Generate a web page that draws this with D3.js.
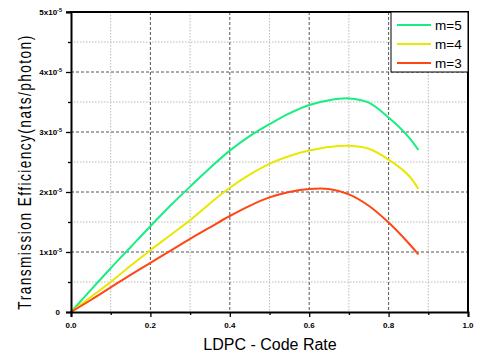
<!DOCTYPE html>
<html>
<script src='https://d3js.org/d3.v7.min.js'></script>
<body style="margin:0;background:#fff">
<svg id="chart" width=480 height=356></svg>
<script type='text/javascript'>
// code rate samples shared by all series
var rate=[0,0.05,0.1,0.15,0.2,0.25,0.3,0.35,0.4,0.45,0.5,0.55,0.6,0.65,0.7,0.75,0.8,0.85,0.875];
// efficiency in units of 1e-5 nats/photon
var m5=[0,0.37,0.73,1.08,1.43,1.77,2.09,2.40,2.69,2.93,3.13,3.31,3.45,3.53,3.56,3.49,3.24,2.92,2.70];
var m4=[0,0.25,0.50,0.77,1.03,1.28,1.53,1.81,2.07,2.29,2.47,2.60,2.69,2.75,2.77,2.72,2.54,2.28,2.05];
var m3=[0,0.20,0.41,0.62,0.82,1.02,1.22,1.41,1.60,1.77,1.91,2.00,2.05,2.05,1.96,1.77,1.49,1.15,0.96];
var names=["m=5","m=4","m=3"];
var colors=["#17ee80","#e8e800","#ff4713"];
var xTicks=[0,0.2,0.4,0.6,0.8,1.0];
var xTickLabels=["0.0","0.2","0.4","0.6","0.8","1.0"];
var yTicks=[0,1,2,3,4,5];
var yTickLabels=["0","1x10","2x10","3x10","4x10","5x10"];

var svg=d3.select("#chart");
var L=71,R=468,T=12,B=312;
var xs=d3.scaleLinear().domain([0,1]).range([L,R]);
var ys=d3.scaleLinear().domain([0,5]).range([B,T]);

// minor grid
var g=svg.append("g");
g.selectAll(".mx").data(d3.range(0.1,1,0.2)).enter().append("line")
.attr("x1",d=>xs(d)).attr("x2",d=>xs(d)).attr("y1",T).attr("y2",B)
.attr("stroke","#bbb").attr("stroke-width",1).attr("stroke-dasharray","1.5,1.5");
g.selectAll(".my").data(d3.range(0.5,5,1)).enter().append("line")
.attr("y1",d=>ys(d)).attr("y2",d=>ys(d)).attr("x1",L).attr("x2",R)
.attr("stroke","#bbb").attr("stroke-width",1).attr("stroke-dasharray","1.5,1.5");
// major grid
g.selectAll(".Mx").data([0.2,0.4,0.6,0.8]).enter().append("line")
.attr("x1",d=>xs(d)).attr("x2",d=>xs(d)).attr("y1",T).attr("y2",B)
.attr("stroke","#555").attr("stroke-width",1).attr("stroke-dasharray","3,2");
g.selectAll(".My").data([1,2,3,4]).enter().append("line")
.attr("y1",d=>ys(d)).attr("y2",d=>ys(d)).attr("x1",L).attr("x2",R)
.attr("stroke","#555").attr("stroke-width",1).attr("stroke-dasharray","3,2");

// curves
var line=d3.line().x(d=>xs(d[0])).y(d=>ys(d[1])).curve(d3.curveCatmullRom);
[m5,m4,m3].forEach(function(s,i){
svg.append("path").datum(rate.map((r,j)=>[r,s[j]]))
.attr("d",line).attr("fill","none").attr("stroke",colors[i]).attr("stroke-width",2);
});

// axes
var xAxis=d3.axisBottom(xs).tickValues(d3.range(0,1.01,0.1)).tickSize(5).tickFormat("");
var yAxis=d3.axisLeft(ys).tickValues(d3.range(0,5.01,0.5)).tickSize(5).tickFormat("");
var xa=svg.append("g").attr("transform","translate(0,"+B+")").call(xAxis);
var ya=svg.append("g").attr("transform","translate("+L+",0)").call(yAxis);
[xa,ya].forEach(function(a){
a.select(".domain").attr("stroke-width",2).attr("stroke","#000");
a.selectAll(".tick line").attr("stroke","#000").attr("stroke-width",1.3);
a.selectAll(".tick").filter((d,i)=>i%2==1).select("line").attr(a===xa?"y2":"x2",a===xa?3:-3);
});
svg.append("line").attr("x1",L-1).attr("x2",R+1).attr("y1",T).attr("y2",T).attr("stroke","#000").attr("stroke-width",2);
svg.append("line").attr("x1",R).attr("x2",R).attr("y1",T).attr("y2",B).attr("stroke","#000").attr("stroke-width",2);
svg.append("line").attr("x1",L-5).attr("x2",L).attr("y1",T).attr("y2",T).attr("stroke","#000").attr("stroke-width",1.3);

// tick labels
svg.selectAll(".xl").data(xTicks).enter().append("text")
.attr("x",d=>xs(d)).attr("y",B+16).attr("text-anchor","middle")
.attr("font-family","Liberation Sans, Arial").attr("font-size",8).attr("font-weight","bold")
.text((d,i)=>xTickLabels[i]);
var yl=svg.selectAll(".yl").data(yTicks).enter().append("text")
.attr("x",d=>d==0?60:56).attr("y",d=>ys(d)+3).attr("text-anchor","end")
.attr("font-family","Liberation Sans, Arial").attr("font-size",8).attr("font-weight","bold");
yl.append("tspan").text((d,i)=>yTickLabels[i]);
yl.filter(d=>d>0).append("tspan").attr("dy",-3).attr("font-size",5.5).text("-5");
yl.filter(d=>d>0).attr("x",62);

// axis titles
svg.append("text").attr("x",270).attr("y",350).attr("text-anchor","middle")
.attr("font-family","Liberation Sans, Arial").attr("font-size",16).text("LDPC - Code Rate");
// condensed but letter-spaced, as in the original
svg.append("text").attr("transform","translate(31,172) rotate(-90) scale(0.72,1)").attr("text-anchor","middle")
.attr("font-family","Liberation Sans, Arial").attr("font-size",19).attr("letter-spacing",2)
.text("Transmission Efficiency(nats/photon)");

// legend
var lg=svg.append("g");
lg.append("rect").attr("x",391).attr("y",T).attr("width",R-391).attr("height",60)
.attr("fill","#fff").attr("stroke","#000").attr("stroke-width",1);
names.forEach(function(n,i){
lg.append("line").attr("x1",397).attr("x2",431).attr("y1",25+i*19).attr("y2",25+i*19)
.attr("stroke",colors[i]).attr("stroke-width",2);
lg.append("text").attr("x",435).attr("y",30+i*19)
.attr("font-family","Liberation Sans, Arial").attr("font-size",13.5).text(n);
});
</script>
</body>
</html>
